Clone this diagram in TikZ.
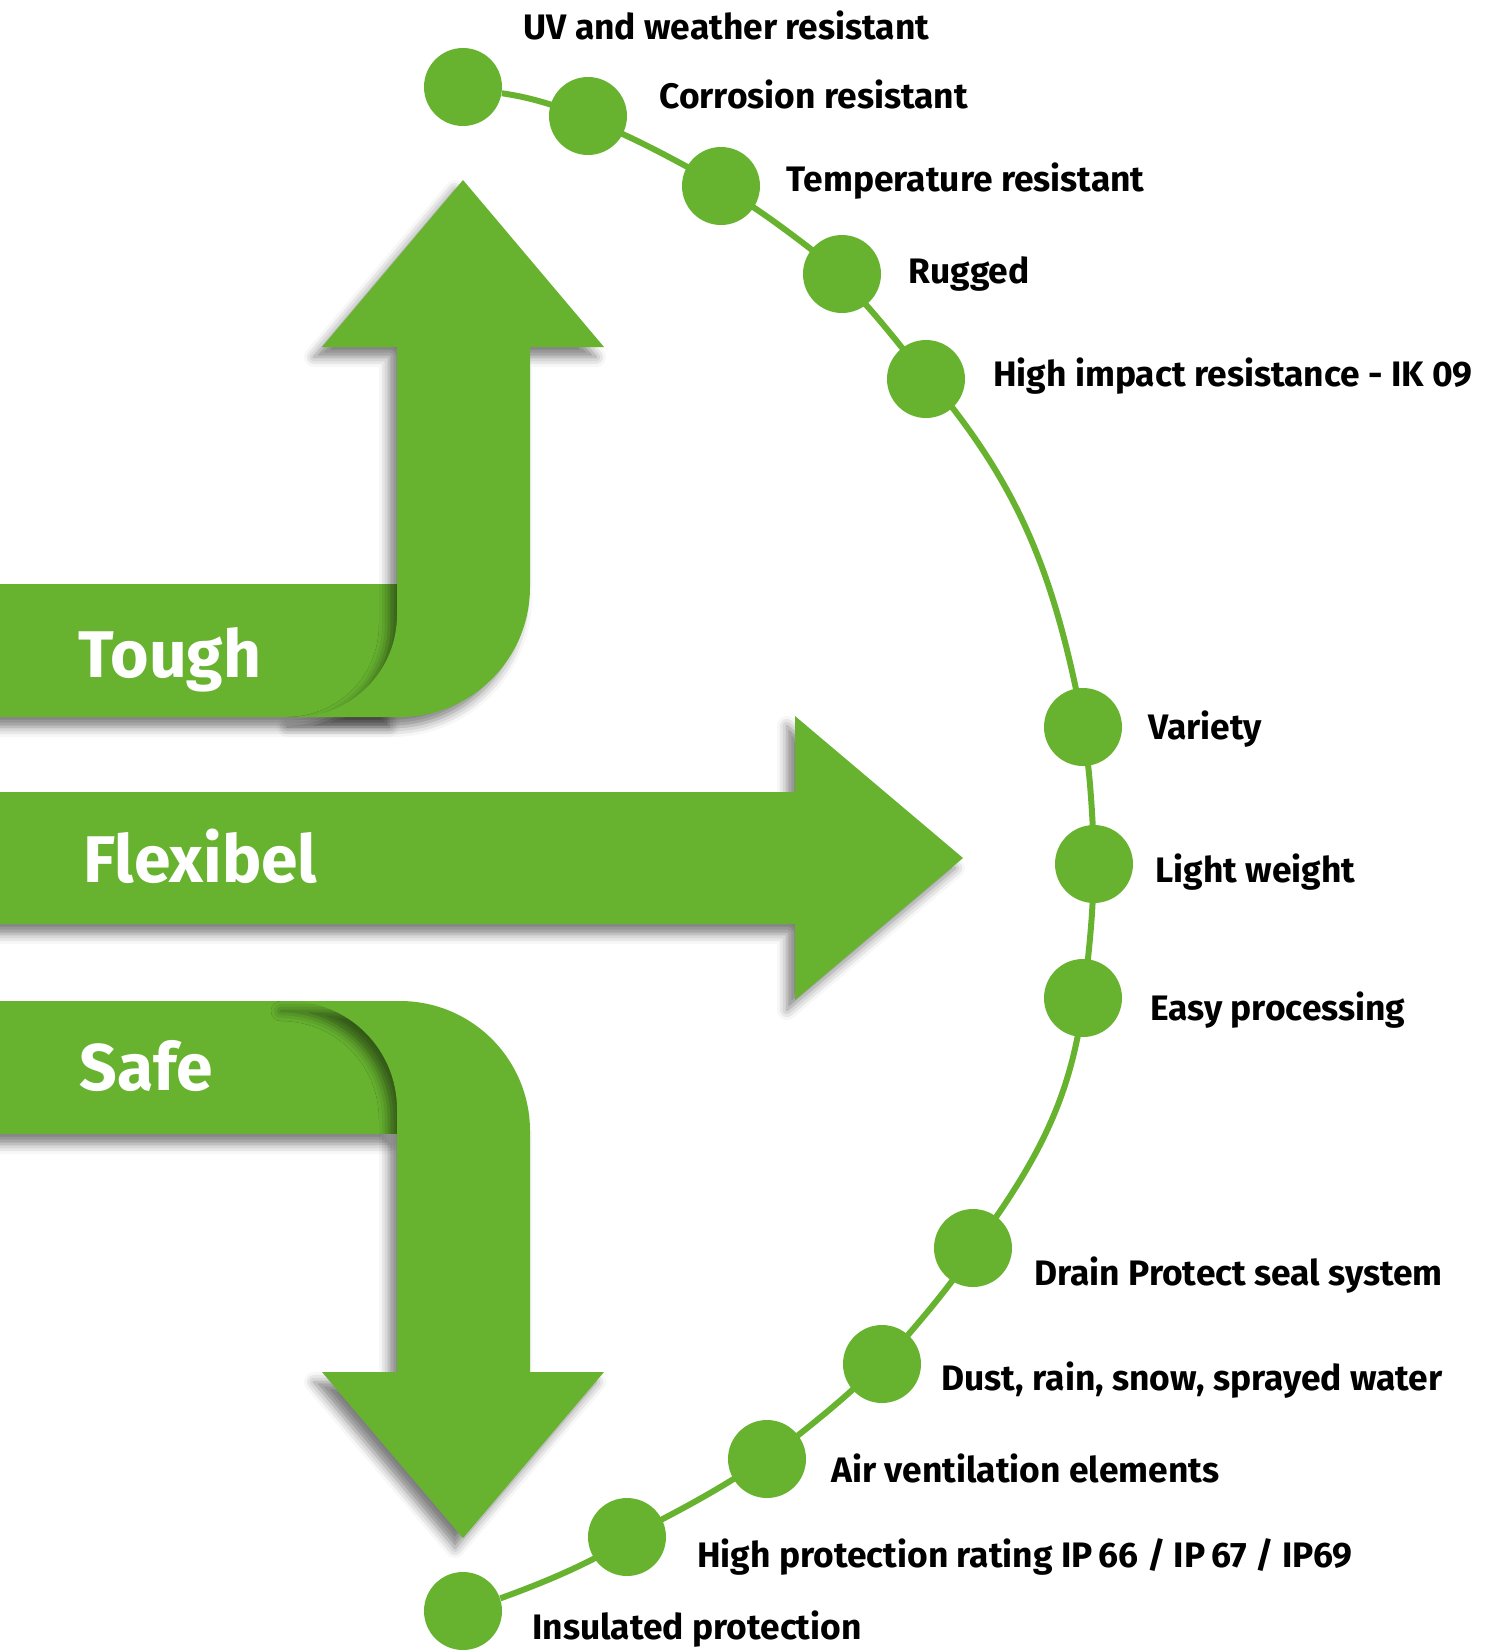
\documentclass[tikz,border=0pt]{standalone}
\usepackage{fontspec}
\setmainfont{Fira Sans}
\usetikzlibrary{positioning, shadows.blur}
\definecolor{leafgreen}{RGB}{103,179,48}

\tikzset{
    dot/.style={circle, fill=leafgreen, inner sep=0pt, minimum size=39pt},
    feature/.style={anchor=base west, inner sep=0pt, font=\fontsize{17.7}{20}\selectfont\bfseries},
    bandtext/.style={anchor=base west, inner sep=0pt, text=white, font=\fontsize{33}{40}\selectfont\bfseries},
    ribbon/.style={fill=leafgreen, blur shadow={shadow xshift=-4pt, shadow yshift=-5pt, shadow blur radius=5pt, shadow opacity=50}},
    arcline/.style={draw=leafgreen, line width=3pt}
}

\begin{document}
\begin{tikzpicture}[x=0.5pt, y=-0.5pt]
    \useasboundingbox (0,0) rectangle (1488,1651);

    % Tough
    \path[ribbon] (0,584) rectangle (397,717);
    \path[ribbon] (397,347) -- (322,347) -- (463,180) -- (604,347) -- (530,347) -- (530,587)
        arc[start angle=0, end angle=90, radius=130] -- (295,717)
        arc[start angle=90, end angle=0, radius=102] -- cycle;
    % Flexibel
    \path[ribbon] (0,792) -- (795,792) -- (795,716) -- (963,858) -- (795,1000) -- (795,924) -- (0,924) -- cycle;
    % Safe
    \path[ribbon] (0,1001) rectangle (397,1134);
    \path[ribbon] (289,1001) -- (400,1001)
        arc[start angle=-90, end angle=0, radius=130] -- (530,1372) -- (604,1372) -- (463,1538) -- (322,1372) -- (397,1372) -- (397,1109)
        arc[start angle=0, end angle=-90, radius=108] -- cycle;

    \node[bandtext] (tough) at (78,677) {Tough};
    \node[bandtext] (flex) at (83,882) {Flexibel};
    \node[bandtext] (safe) at (79,1090) {Safe};

    % dots
    \node[dot] (uv) at (463,87) {};
    \node[dot] (cor) at (588,116) {};
    \node[dot] (tem) at (721,186) {};
    \node[dot] (rug) at (842,274) {};
    \node[dot] (imp) at (926,379) {};
    \node[dot] (var) at (1083,727) {};
    \node[dot] (lig) at (1094,864) {};
    \node[dot] (eas) at (1083,998) {};
    \node[dot] (dra) at (973,1248) {};
    \node[dot] (dus) at (882,1364) {};
    \node[dot] (air) at (767,1459) {};
    \node[dot] (ipr) at (627,1537) {};
    \node[dot] (ins) at (463,1611) {};

    \draw[arcline] (uv) to[bend left=4] (cor) to[bend left=4] (tem) to[bend left=4] (rug) to[bend left=4] (imp)
        to[bend left=15] (var) to[bend left=4] (lig) to[bend left=4] (eas) to[bend left=15] (dra)
        to[bend left=4] (dus) to[bend left=4] (air) to[bend left=4] (ipr) to[bend left=6] (ins);

    % labels
    \node[feature] (uvt) at (523,39) {UV and weather resistant};
    \node[feature] (cort) at (659,108) {Corrosion resistant};
    \node[feature] (temt) at (786,191) {Temperature resistant};
    \node[feature] (rugt) at (908,283) {Rugged};
    \node[feature] (impt) at (993,386) {High impact resistance - IK 09};
    \node[feature] (vart) at (1148,739) {Variety};
    \node[feature] (ligt) at (1155,882) {Light weight};
    \node[feature] (east) at (1150,1020) {Easy processing};
    \node[feature] (drat) at (1034,1285) {Drain Protect seal system};
    \node[feature] (dust) at (941,1390) {Dust, rain, snow, sprayed water};
    \node[feature] (airt) at (831,1482) {Air ventilation elements};
    \node[feature] (iprt) at (697,1567) {High protection rating IP\,66 / IP\,67 / IP69};
    \node[feature] (inst) at (532,1639) {Insulated protection};
\end{tikzpicture}
\end{document}
